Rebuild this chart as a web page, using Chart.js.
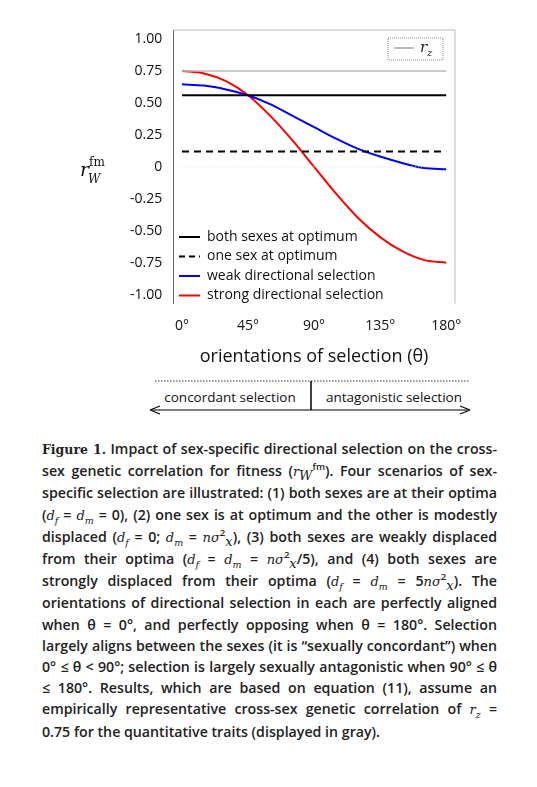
<!DOCTYPE html>
<html><head><meta charset="utf-8">
<script src="https://cdn.jsdelivr.net/npm/chart.js@4"></script>
<style>
body{margin:0;background:#fff;font-family:"Open Sans",sans-serif;}
#wrap{position:absolute;left:0;top:0;width:537px;height:372px;}
#arr{position:absolute;left:0;top:372px;}
#cap{position:absolute;left:42px;top:438px;width:455px;font-size:14.2px;line-height:21.2px;color:#222;font-weight:600;text-align:justify;}
#cap b{font-family:"DejaVu Serif",serif;font-weight:900;font-size:12.5px;}
sub,sup{line-height:0;font-size:9.5px;}
i{font-style:italic;font-family:"DejaVu Serif",serif;font-weight:400;font-size:13px;}
</style></head><body>
<div id="wrap"><canvas id="c"></canvas></div>
<svg id="arr" width="537" height="50">
<line x1="155" y1="9" x2="470" y2="9" stroke="#333" stroke-dasharray="1.5,1.5"/>
<line x1="311" y1="9" x2="311" y2="38" stroke="#000" stroke-width="1.5"/>
<text x="230" y="30" font-size="13.5" text-anchor="middle" font-family="Open Sans" fill="#111">concordant selection</text>
<text x="394" y="30" font-size="13.5" text-anchor="middle" font-family="Open Sans" fill="#111">antagonistic selection</text>
<line x1="152" y1="38" x2="468" y2="38" stroke="#000" stroke-width="1.2"/>
<path d="M150 38 L160 34 M150 38 L160 42 M470 38 L460 34 M470 38 L460 42" stroke="#000" stroke-width="1.2" fill="none"/>
</svg>
<div id="cap"><b>Figure 1.</b> Impact of sex-specific directional selection on the cross-sex genetic correlation for fitness (<i>r</i><sub><i>W</i></sub><sup>fm</sup>). Four scenarios of sex-specific selection are illustrated: (1) both sexes are at their optima (<i>d<sub>f</sub></i> = <i>d<sub>m</sub></i> = 0), (2) one sex is at optimum and the other is modestly displaced (<i>d<sub>f</sub></i> = 0; <i>d<sub>m</sub></i> = <i>nσ</i><sup>2</sup><sub><i>x</i></sub>), (3) both sexes are weakly displaced from their optima (<i>d<sub>f</sub></i> = <i>d<sub>m</sub></i> = <i>nσ</i><sup>2</sup><sub><i>x</i></sub>/5), and (4) both sexes are strongly displaced from their optima (<i>d<sub>f</sub></i> = <i>d<sub>m</sub></i> = 5<i>nσ</i><sup>2</sup><sub><i>x</i></sub>). The orientations of directional selection in each are perfectly aligned when θ = 0°, and perfectly opposing when θ = 180°. Selection largely aligns between the sexes (it is “sexually concordant”) when 0° ≤ θ &lt; 90°; selection is largely sexually antagonistic when 90° ≤ θ ≤ 180°. Results, which are based on equation (11), assume an empirically representative cross-sex genetic correlation of <i>r<sub>z</sub></i> = 0.75 for the quantitative traits (displayed in gray).</div>
<script>
const theta = [0, 15, 30, 45, 60, 75, 90, 105, 120, 135, 150, 165, 180];
const strong = [0.75, 0.73, 0.67, 0.56, 0.40, 0.21, 0.0, -0.21, -0.40, -0.55, -0.66, -0.73, -0.75];
const weak = [0.645, 0.635, 0.605, 0.56, 0.49, 0.40, 0.31, 0.22, 0.14, 0.08, 0.03, -0.01, -0.02];
const bothOpt = 0.56;
const oneOpt = 0.12;
const rz = 0.75;
const yTicks = [-1, -0.75, -0.5, -0.25, 0, 0.25, 0.5, 0.75, 1];
const xTicks = [0, 45, 90, 135, 180];
const legendLabels = ['both sexes at optimum', 'one sex at optimum', 'weak directional selection', 'strong directional selection'];

const pts = v => theta.map((t, i) => ({x: t, y: Array.isArray(v) ? v[i] : v}));
const ds = (label, data, color, dash, w) => ({label, data, borderColor: color, borderDash: dash || [], borderWidth: w || 2, pointRadius: 0, cubicInterpolationMode: 'monotone', fill: false});

const extras = {
  id: 'extras',
  afterDraw(ch) {
    const c = ch.ctx, a = ch.chartArea, y = ch.scales.y;
    c.save();
    c.strokeStyle = '#ddd'; c.lineWidth = 1; c.setLineDash([1, 2]);
    c.beginPath(); c.moveTo(a.left + 8, y.getPixelForValue(0)); c.lineTo(a.right - 8, y.getPixelForValue(0)); c.stroke();
    c.setLineDash([]);
    c.strokeStyle = '#bbb';
    c.beginPath(); c.moveTo(a.left, a.top); c.lineTo(a.right, a.top); c.lineTo(a.right, a.bottom); c.stroke();
    c.strokeStyle = '#888'; c.setLineDash([1, 1]);
    c.strokeRect(388, 38, 55, 22); c.setLineDash([]);
    c.strokeStyle = '#aaa'; c.lineWidth = 1.5;
    c.beginPath(); c.moveTo(394, 48); c.lineTo(414, 48); c.stroke();
    c.fillStyle = '#222'; c.font = 'italic 15px "DejaVu Serif"';
    c.fillText('r', 420, 52); c.font = 'italic 10px "DejaVu Serif"'; c.fillText('z', 427, 56);
    const cols = ['#000', '#000', '#0000ff', '#ff0000'];
    c.font = '14px "Open Sans"'; c.textBaseline = 'middle';
    legendLabels.forEach((l, i) => {
      const yy = 237 + i * 19.5;
      c.strokeStyle = cols[i]; c.lineWidth = 2; c.setLineDash(i === 1 ? [6, 4] : []);
      c.beginPath(); c.moveTo(179, yy); c.lineTo(200, yy); c.stroke();
      c.setLineDash([]); c.fillStyle = '#111'; c.fillText(l, 207, yy);
    });
    c.textBaseline = 'alphabetic';
    c.font = 'italic 19px "DejaVu Serif"'; c.fillText('r', 80, 176);
    c.font = 'italic 12px "DejaVu Serif"'; c.fillText('W', 88, 183);
    c.font = '12px "DejaVu Serif"'; c.fillText('fm', 89, 166);
    c.restore();
  }
};

new Chart(document.getElementById('c'), {
  type: 'line',
  data: {datasets: [
    ds('rz', pts(rz), '#bbbbbb', [], 1.5),
    ds(legendLabels[0], pts(bothOpt), '#000'),
    ds(legendLabels[1], pts(oneOpt), '#000', [7, 5]),
    ds(legendLabels[2], pts(weak), '#0000ff'),
    ds(legendLabels[3], pts(strong), '#ff0000')
  ]},
  options: {
    responsive: true, maintainAspectRatio: false, animation: false,
    layout: {padding: {left: 127, right: 82, top: 30, bottom: 0}},
    plugins: {legend: {display: false}, tooltip: {enabled: false}},
    scales: {
      x: {type: 'linear', min: -6, max: 186, afterBuildTicks: s => { s.ticks = xTicks.map(v => ({value: v})); },
        grid: {display: false, drawTicks: true, tickLength: 8, color: '#444'}, border: {display: false},
        ticks: {color: '#111', font: {size: 14, family: 'Open Sans'}, callback: v => v + '°', padding: 6},
        title: {display: true, text: 'orientations of selection (θ)', color: '#111', font: {size: 18, family: 'Open Sans'}, padding: {top: 6}}},
      y: {min: -1.07, max: 1.07, afterBuildTicks: s => { s.ticks = yTicks.map(v => ({value: v})); },
        grid: {display: false, tickLength: 8}, border: {display: true, color: '#666'},
        ticks: {color: '#111', font: {size: 14, family: 'Open Sans'}, callback: v => v === 0 ? '0' : v.toFixed(2)}}
    }
  },
  plugins: [extras]
});
</script>
</body></html>
